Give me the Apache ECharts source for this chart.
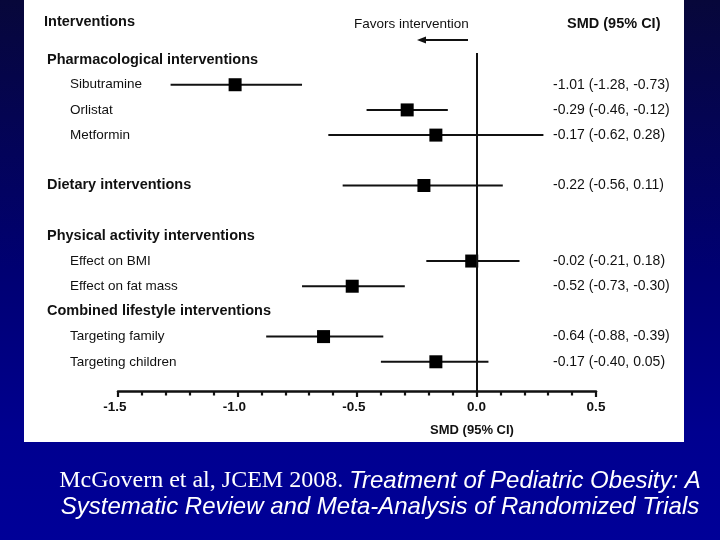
<!DOCTYPE html>
<html><head><meta charset="utf-8">
<script src="https://cdn.jsdelivr.net/npm/echarts@6/dist/echarts.min.js"></script>
<style>html,body{margin:0;padding:0;background:#000070}#c{width:720px;height:540px}</style>
</head><body><div id="c"></div>
<script>
// Row layout (top to bottom); empty strings are spacer rows
const rowLabels = ['Pharmacological interventions', 'Sibutramine', 'Orlistat', 'Metformin', '',
  'Dietary interventions', '', 'Physical activity interventions', 'Effect on BMI', 'Effect on fat mass',
  'Combined lifestyle interventions', 'Targeting family', 'Targeting children'];
const groupHeaders = ['Pharmacological interventions', 'Dietary interventions',
  'Physical activity interventions', 'Combined lifestyle interventions'];
// Estimates
const studies = ['Sibutramine', 'Orlistat', 'Metformin', 'Dietary interventions',
  'Effect on BMI', 'Effect on fat mass', 'Targeting family', 'Targeting children'];
const smd    = [-1.01, -0.29, -0.17, -0.22, -0.02, -0.52, -0.64, -0.17];
const ciLow  = [-1.28, -0.46, -0.62, -0.56, -0.21, -0.73, -0.88, -0.40];
const ciHigh = [-0.73, -0.12,  0.28,  0.11,  0.18, -0.30, -0.39,  0.05];
const xTicks = [-1.5, -1.0, -0.5, 0.0, 0.5];
const axisTitle = 'SMD (95% CI)';
const colHeaderLeft = 'Interventions';
const colHeaderMid = 'Favors intervention';
const colHeaderRight = 'SMD (95% CI)';
const captionPlain = 'McGovern et al, JCEM 2008. ';
const captionItalic1 = 'Treatment of Pediatric Obesity: A';
const captionItalic2 = 'Systematic Review and Meta-Analysis of Randomized Trials';

const SANS = '"Liberation Sans", Arial, sans-serif';
const SERIF = '"Liberation Serif", "Times New Roman", serif';
const INK = '#111';

const xMin = xTicks[0], xMax = xTicks[xTicks.length - 1];
const rowOf = name => rowLabels.indexOf(name);
const labelRows = rowLabels.map((t, i) => ({ t, i })).filter(r => r.t !== '');
const f2 = v => v.toFixed(2);

const chart = echarts.init(document.getElementById('c'), null, { renderer: 'canvas' });
chart.setOption({
  animation: false,
  backgroundColor: {
    type: 'linear', x: 0, y: 0, x2: 0, y2: 1,
    colorStops: [
      { offset: 0, color: '#07073a' },
      { offset: 0.5, color: '#000072' },
      { offset: 0.8, color: '#00008f' },
      { offset: 1, color: '#000098' }
    ]
  },
  grid: { left: 118, right: 124, top: 53, bottom: 149, containLabel: false },
  xAxis: {
    type: 'value', min: xMin, max: xMax, interval: 0.5, position: 'bottom',
    axisLine: { show: true, onZero: false, lineStyle: { color: INK, width: 2.5 } },
    axisTick: { show: true, length: 6, lineStyle: { color: INK, width: 2.2 } },
    minorTick: { show: true, splitNumber: 5, length: 4.5, lineStyle: { color: INK, width: 2.2 } },
    splitLine: { show: false }, minorSplitLine: { show: false },
    axisLabel: {
      formatter: v => (v < 0 ? '{neg|' : '{pos|') + v.toFixed(1) + '}',
      color: INK, fontFamily: SANS, fontWeight: 'bold', fontSize: 13.5, margin: 9,
      rich: {
        neg: { color: INK, fontFamily: SANS, fontWeight: 'bold', fontSize: 13.5, padding: [0, 6, 0, 0] },
        pos: { color: INK, fontFamily: SANS, fontWeight: 'bold', fontSize: 13.5 }
      }
    }
  },
  yAxis: { type: 'value', inverse: true, min: -0.26, max: 13.16, show: false },
  graphic: [
    { type: 'rect', z: -10, silent: true, shape: { x: 24, y: 0, width: 660, height: 442 }, style: { fill: '#ffffff' } },
    { type: 'text', x: 44, y: 22, style: { text: colHeaderLeft, fill: INK, font: 'bold 14.5px ' + SANS, verticalAlign: 'middle' } },
    { type: 'text', x: 354, y: 24, style: { text: colHeaderMid, fill: INK, font: '13.5px ' + SANS, verticalAlign: 'middle' } },
    { type: 'text', x: 567, y: 24, style: { text: colHeaderRight, fill: INK, font: 'bold 14.5px ' + SANS, verticalAlign: 'middle' } },
    { type: 'line', shape: { x1: 423, y1: 40, x2: 468, y2: 40 }, style: { stroke: INK, lineWidth: 2 } },
    { type: 'polygon', shape: { points: [[417, 40], [426, 36.5], [426, 43.5]] }, style: { fill: INK } },
    { type: 'text', x: 472, y: 430, style: { text: axisTitle, fill: INK, font: 'bold 13px ' + SANS, align: 'center', verticalAlign: 'middle' } },
    { type: 'text', x: 380, y: 494, style: {
        text: '{a|' + captionPlain + '}{b|' + captionItalic1 + '}\n{b|' + captionItalic2 + '}',
        align: 'center', verticalAlign: 'middle',
        rich: {
          a: { font: '24px ' + SERIF, fill: '#ffffff', lineHeight: 26 },
          b: { font: 'italic 24px ' + SANS, fill: '#ffffff', lineHeight: 26 }
        }
    } }
  ],
  series: [
    {
      type: 'custom', name: 'CI', z: 3,
      data: studies.map((s, i) => [ciLow[i], ciHigh[i], rowOf(s)]),
      encode: { x: [0, 1], y: 2 },
      renderItem: (params, api) => {
        const a = api.coord([api.value(0), api.value(2)]);
        const b = api.coord([api.value(1), api.value(2)]);
        return { type: 'line', shape: { x1: a[0], y1: a[1], x2: b[0], y2: b[1] }, style: { stroke: INK, lineWidth: 2 } };
      },
      markLine: {
        silent: true, symbol: 'none', label: { show: false },
        lineStyle: { color: INK, width: 2, type: 'solid' },
        data: [{ xAxis: 0 }]
      }
    },
    {
      type: 'scatter', name: 'SMD', z: 4,
      data: studies.map((s, i) => [smd[i], rowOf(s)]),
      symbol: 'rect', symbolSize: 13, itemStyle: { color: '#000', opacity: 1 }
    },
    {
      type: 'custom', name: 'rowLabels', z: 4,
      data: labelRows.map(r => [xMin, r.i]),
      encode: { x: 0, y: 1 },
      renderItem: (params, api) => {
        const r = labelRows[params.dataIndex];
        const p = api.coord([api.value(0), api.value(1)]);
        const head = groupHeaders.includes(r.t);
        return { type: 'text', x: p[0] - (head ? 71 : 48), y: p[1],
          style: { text: r.t, fill: INK, font: (head ? 'bold 14.5px ' : '13.5px ') + SANS, align: 'left', verticalAlign: 'middle' } };
      }
    },
    {
      type: 'custom', name: 'values', z: 4,
      data: studies.map((s, i) => [xMax, rowOf(s)]),
      encode: { x: 0, y: 1 },
      renderItem: (params, api) => {
        const i = params.dataIndex;
        const p = api.coord([api.value(0), api.value(1)]);
        return { type: 'text', x: p[0] - 43, y: p[1],
          style: { text: f2(smd[i]) + ' (' + f2(ciLow[i]) + ', ' + f2(ciHigh[i]) + ')', fill: INK, font: '14px ' + SANS, align: 'left', verticalAlign: 'middle' } };
      }
    }
  ]
});
</script></body></html>
